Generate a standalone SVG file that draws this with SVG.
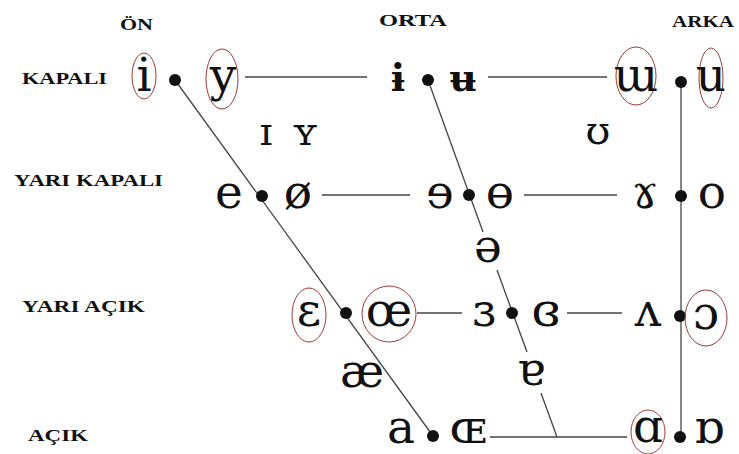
<svg xmlns="http://www.w3.org/2000/svg" width="739" height="454" viewBox="0 0 739 454">
<style>
.lbl{font-family:"Liberation Serif","DejaVu Serif",serif;font-weight:bold;font-size:16px;fill:#111}
.v{font-family:"DejaVu Serif","Liberation Serif",serif;font-size:47px;fill:#111;text-anchor:middle}
.vs{font-family:"DejaVu Serif","Liberation Serif",serif;font-size:40px;fill:#111;text-anchor:middle}
.dot{fill:#111}
.ring{fill:none;stroke:#9a3a3a;stroke-width:1}
.ln{stroke:#444;stroke-width:1.3;fill:none}
</style>
<rect width="739" height="454" fill="#fff"/>
<g id="labels">
<text class="lbl" x="120" y="30" textLength="33" lengthAdjust="spacingAndGlyphs">ÖN</text>
<text class="lbl" x="379" y="26" textLength="68" lengthAdjust="spacingAndGlyphs">ORTA</text>
<text class="lbl" x="672" y="27" textLength="62" lengthAdjust="spacingAndGlyphs">ARKA</text>
<text class="lbl" x="22" y="84" textLength="85" lengthAdjust="spacingAndGlyphs">KAPALI</text>
<text class="lbl" x="14" y="186" textLength="149" lengthAdjust="spacingAndGlyphs">YARI KAPALI</text>
<text class="lbl" x="22" y="312" textLength="123" lengthAdjust="spacingAndGlyphs">YARI AÇIK</text>
<text class="lbl" x="28" y="441" textLength="60" lengthAdjust="spacingAndGlyphs">AÇIK</text>
</g>
<g id="connectors">
<line class="ln" x1="175" y1="80" x2="433" y2="436"/>
<line class="ln" x1="428" y1="80" x2="483" y2="232"/>
<line class="ln" x1="497" y1="270" x2="527" y2="352"/>
<line class="ln" x1="541" y1="393" x2="557" y2="437"/>
<line class="ln" x1="681" y1="80" x2="681" y2="437"/>
<line class="ln" x1="245" y1="77" x2="367" y2="77"/>
<line class="ln" x1="488" y1="77" x2="607" y2="77"/>
<line class="ln" x1="322" y1="195" x2="410" y2="195"/>
<line class="ln" x1="524" y1="195" x2="617" y2="195"/>
<line class="ln" x1="417" y1="313" x2="462" y2="313"/>
<line class="ln" x1="567" y1="313" x2="622" y2="313"/>
<line class="ln" x1="490" y1="437" x2="627" y2="437"/>
</g>
<g id="kapali-on">
<ellipse class="ring" cx="144" cy="76" rx="12" ry="23"/>
<text class="v" x="144" y="91">i</text>
<circle class="dot" cx="175" cy="80" r="6"/>
<ellipse class="ring" cx="222" cy="79" rx="16" ry="30"/>
<text class="v" x="223" y="91">y</text>
</g>
<g id="kapali-orta">
<text class="v" x="398" y="91" style="font-size:38px;font-weight:bold">ɨ</text>
<circle class="dot" cx="428" cy="80" r="6"/>
<text class="v" x="463" y="91" style="font-size:38px;font-weight:bold">ʉ</text>
</g>
<g id="kapali-arka">
<ellipse class="ring" cx="636" cy="76" rx="20" ry="29"/>
<text class="v" x="636" y="91">ɯ</text>
<circle class="dot" cx="681" cy="82" r="6"/>
<ellipse class="ring" cx="711" cy="78" rx="12" ry="30"/>
<text class="v" x="711" y="91">u</text>
</g>
<g id="near-close">
<text class="vs" x="266" y="145">ɪ</text>
<text class="vs" x="305" y="145">ʏ</text>
<text class="vs" x="598" y="144">ʊ</text>
</g>
<g id="yarikapali-on">
<text class="v" x="229" y="208">e</text>
<circle class="dot" cx="262" cy="196" r="6"/>
<text class="v" x="298" y="208">ø</text>
</g>
<g id="yarikapali-orta">
<text class="v" x="440" y="208">ɘ</text>
<circle class="dot" cx="469" cy="195" r="6"/>
<text class="v" x="500" y="208">ɵ</text>
</g>
<g id="yarikapali-arka">
<text class="v" x="645" y="208">ɤ</text>
<circle class="dot" cx="681" cy="196" r="6"/>
<text class="v" x="712" y="208">o</text>
</g>
<g id="schwa">
<text class="v" x="488" y="262">ə</text>
</g>
<g id="yariacik-on">
<ellipse class="ring" cx="309" cy="315" rx="17" ry="27"/>
<text class="v" x="309" y="326">ɛ</text>
<circle class="dot" cx="346" cy="313" r="6"/>
<ellipse class="ring" cx="389" cy="314" rx="27" ry="28"/>
<text class="v" x="389" y="326">œ</text>
</g>
<g id="yariacik-orta">
<text class="v" x="484" y="326">ɜ</text>
<circle class="dot" cx="512" cy="313" r="6"/>
<text class="v" x="546" y="326">ɞ</text>
</g>
<g id="yariacik-arka">
<text class="v" x="648" y="326">ʌ</text>
<circle class="dot" cx="680" cy="316" r="6"/>
<ellipse class="ring" cx="706" cy="318" rx="21" ry="28"/>
<text class="v" x="706" y="329">ɔ</text>
</g>
<g id="ae">
<text class="v" x="362" y="387">æ</text>
</g>
<g id="turned-a">
<text class="v" x="531" y="385">ɐ</text>
</g>
<g id="acik-on">
<text class="v" x="401" y="443">a</text>
<circle class="dot" cx="433" cy="436" r="6"/>
<text class="v" x="468" y="443">ɶ</text>
</g>
<g id="acik-arka">
<ellipse class="ring" cx="648" cy="432" rx="17" ry="22"/>
<text class="v" x="648" y="442">ɑ</text>
<circle class="dot" cx="680" cy="437" r="6"/>
<text class="v" x="709" y="443">ɒ</text>
</g>
</svg>
